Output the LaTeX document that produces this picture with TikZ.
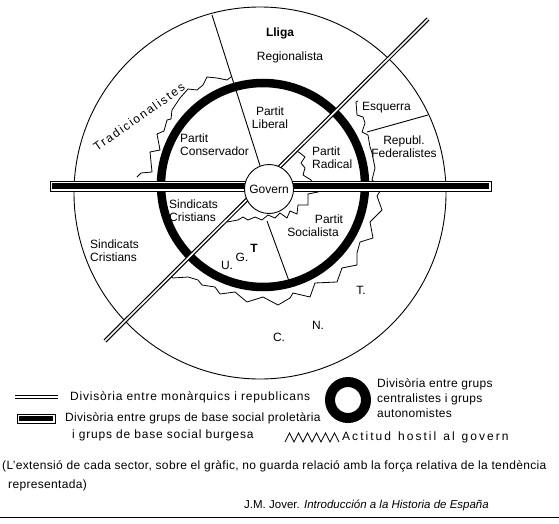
\documentclass[tikz,border=0pt]{standalone}
\usepackage{fontspec}
\setmainfont{Liberation Sans}
\definecolor{ink}{HTML}{000000}
\newcommand\ampliaespai{\spaceskip 7pt\relax}
\tikzset{
  lbl/.style={font=\fontsize{12}{13}\selectfont,inner sep=0pt,align=center,text=ink},
  lbll/.style={lbl,align=left},
  legtxt/.style={lbll,font=\fontsize{12}{13}\selectfont\addfontfeatures{LetterSpace=#1}},
  legtxt/.default=2.5,
  notatxt/.style={lbll,font=\fontsize{12}{13}\selectfont\addfontfeatures{LetterSpace=2.8}},
  sepline/.style={draw=ink,line width=0.9pt},
  hostil/.style={draw=ink,line width=0.8pt,line join=miter},
  frontera/.style={draw=ink,line width=1.2pt,double=white,double distance=1.6pt},
  anella/.style={draw=ink,line width=8.5pt},
  barra/.style={draw=ink,line width=0.8pt,fill=white}
}
\begin{document}
\begin{tikzpicture}[x=1pt,y=-1pt]
  \useasboundingbox (0,0) rectangle (559,524);

  \coordinate (centre) at (260,193);
  \coordinate (nucli) at (263,185);
  \coordinate (ltop) at (212,15);
  \coordinate (ugtA) at (267,221);
  \coordinate (ugtB) at (289,281);
  \coordinate (esqA) at (367,132);
  \coordinate (esqB) at (428,115);
  \coordinate (diagA) at (105,341);
  \coordinate (diagB) at (428,19);

  % big circle and the centralist/autonomist ring
  \draw[sepline] (centre) circle (186);
  \draw[anella] (nucli) circle (102);

  % hostile borders
  \draw[hostil] (137,177) -- (141,173) -- (152,172) -- (150,152) -- (160,150) -- (157,134) -- (164,131)
    -- (167,120) -- (171,119) -- (172,110) -- (180,98) -- (188,89) -- (197,90) -- (203,85) -- (207,77)
    -- (217,78) -- (227,80) -- (231,77);
  \draw[hostil] (358,101) -- (356,102) -- (357,115) -- (363,117) -- (365,123) -- (362,132) -- (368,135)
    -- (370,147) -- (372,153) -- (375,168) -- (372,180) -- (382,188) -- (377,196) -- (382,210)
    -- (370,222) -- (373,238) -- (360,242) -- (357,253) -- (357,265) -- (342,268) -- (337,282)
    -- (315,283) -- (310,297) -- (293,293) -- (290,298) -- (278,305) -- (263,297) -- (247,302)
    -- (235,292) -- (220,294) -- (215,287) -- (202,285) -- (198,280) -- (188,277) -- (173,278) -- (170,276);
  \draw[hostil] (295,150) -- (300,153) -- (305,157) -- (301,163) -- (305,168) -- (303,175) -- (311,180)
    -- (318,192) -- (308,194) -- (308,205) -- (298,205) -- (297,214) -- (290,211) -- (287,218)
    -- (280,213) -- (275,218) -- (268,215) -- (262,220) -- (255,217) -- (248,220) -- (243,217)
    -- (238,220) -- (227,222);

  % monarchists / republicans
  \draw[frontera] (diagA) -- (diagB);

  % proletarian / bourgeois bar
  \draw[barra] (50,181) rectangle (491,191);
  \fill[ink] (52,183) rectangle (489,189);

  \node[circle,draw=ink,line width=0.9pt,fill=white,minimum size=49pt,lbl] (govern) at (269,189) {Govern};

  \draw[sepline] (ltop) -- (govern.111);
  \draw[sepline] (ugtA) -- (ugtB);
  \draw[sepline] (esqA) -- (esqB);

  \node[lbl,font=\fontsize{12}{13}\selectfont\bfseries] (lliga) at (280,33) {Lliga};
  \node[lbl] (regio) at (290,57) {Regionalista};
  \node[lbl] (liberal) at (270,118) {Partit\\Liberal};
  \node[lbll,anchor=west] (conserv) at (180,145) {Partit\\Conservador};
  \node[lbll,anchor=west] (esquerra) at (362,108) {Esquerra};
  \node[lbl] (federal) at (404,147) {Republ.\\Federalistes};
  \node[lbll,anchor=west] (radical) at (312,158) {Partit\\Radical};
  \node[lbll,anchor=west] (sindint) at (169,211) {Sindicats\\Cristians};
  \node[lbll,anchor=west] (sindext) at (90,251) {Sindicats\\Cristians};
  \node[lbl] (socialista) at (313,226) {\hspace*{32pt}Partit\\Socialista};
  \node[lbl] (ugtU) at (227,265) {U.};
  \node[lbl] (ugtG) at (242,257) {G.};
  \node[lbl,font=\fontsize{12}{13}\selectfont\bfseries] (ugtT) at (254,248) {T};
  \node[lbl] (cntT) at (361,290) {T.};
  \node[lbl] (cntN) at (318,325) {N.};
  \node[lbl] (cntC) at (279,337) {C.};
  \node[lbl,rotate=35,font=\fontsize{12}{13}\selectfont\addfontfeatures{LetterSpace=14}] (tradi) at (139,117) {Tradicionalistes};

  % legend
  \coordinate (lgA) at (15,397);
  \coordinate (lgB) at (58,397);
  \draw[frontera] (lgA) -- (lgB);
  \node[legtxt=6.5,anchor=west] (lgmon) at (70,397) {Divisòria entre monàrquics i republicans};
  \draw[barra] (17,414) rectangle (55,423);
  \fill[ink] (19,416) rectangle (53,421);
  \node[legtxt,anchor=west] (lgprol) at (65,418) {Divisòria entre grups de base social proletària};
  \node[legtxt=6.5,anchor=west] (lgprol2) at (72,435) {i grups de base social burgesa};
  \draw[anella,line width=10pt] (348,400) circle (18);
  \node[legtxt,anchor=west,font=\fontsize{12}{15}\selectfont\addfontfeatures{LetterSpace=2.5}] (lgcent) at (377,398)
    {Divisòria entre grups\\centralistes i grups\\autonomistes};
  \draw[hostil] (285,442) \foreach \i in {0,...,5} { -- ++(4.5,-9) -- ++(4.5,9) };
  \node[legtxt=17,anchor=west] (lghost) at (342,437) {\ampliaespai Actitud hostil al govern};

  % note and source
  \node[notatxt,anchor=west] (nota) at (2,466)
    {(L'extensió de cada sector, sobre el gràfic, no guarda relació amb la força relativa de la tendència};
  \node[notatxt,anchor=west] (nota2) at (8,485) {representada)};
  \node[lbll,anchor=east,font=\fontsize{11.5}{13}\selectfont] (font) at (489,505) {J.M. Jover. \textit{Introducción a la Historia de España}};
  \draw[ink,line width=1pt] (0,517) -- (559,517);
\end{tikzpicture}
\end{document}
